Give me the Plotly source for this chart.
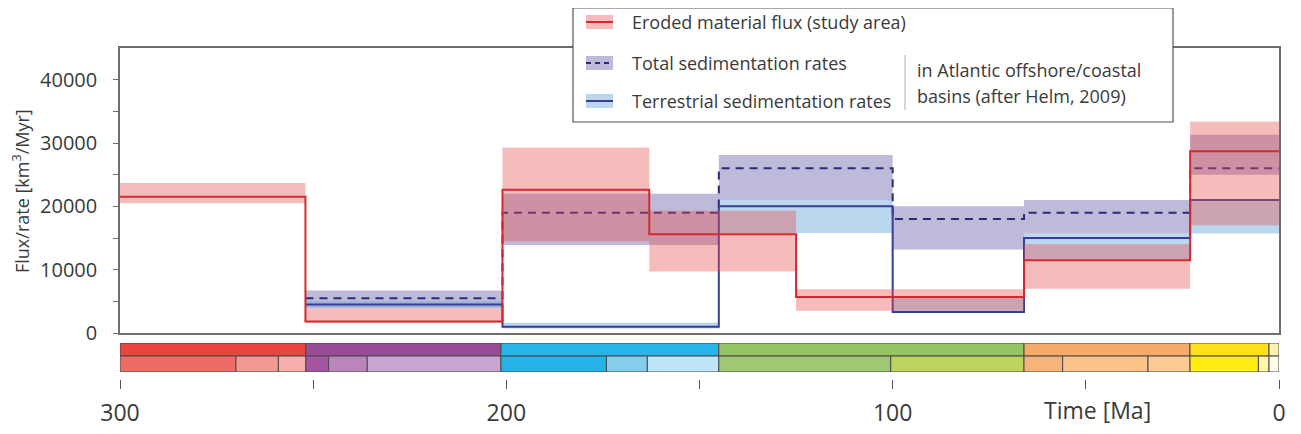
import plotly.graph_objects as go

# ---------------- data ----------------
# Eroded material flux (study area): step intervals (Ma) and values (km3/Myr)
red_bounds = [300, 252, 201, 163, 125, 66, 23, 0]
red_flux = [21500, 1800, 22600, 15600, 5700, 11500, 28700]
red_low = [20500, 1600, 14500, 9700, 3500, 7000, 17000]
red_high = [23700, 3900, 29300, 19300, 6900, 14000, 33400]

# Atlantic offshore/coastal basins (after Helm, 2009)
sed_bounds = [252, 201, 145, 100, 66, 23, 0]
total_rate = [5500, 19000, 26000, 18000, 19000, 26000]
total_low = [4000, 13900, 21000, 13200, 15700, 25000]
total_high = [6700, 22000, 28100, 20000, 21000, 31300]
terr_rate = [4500, 1000, 20000, 3300, 15000, 21000]
terr_low = [3900, 700, 15800, 3300, 11400, 15700]
terr_high = [5000, 1600, 21000, 5600, 15700, 21000]

# Geological time scale
period_bounds = [300, 251.9, 201.4, 145.0, 66.0, 23.03, 2.58, 0]
period_colors = ["#e8453e", "#984c95", "#25b5e8", "#96c462", "#f7ab6b", "#ffdf1a", "#fff3b0"]
epoch_bounds = [300, 270.0, 259.0, 251.9, 246.0, 236.0, 201.4, 174.1, 163.5, 145.0,
                100.5, 66.0, 56.0, 33.9, 23.03, 5.33, 2.58, 0]
epoch_colors = ["#ef6b66", "#f29893", "#f6afaa", "#a655a2", "#bb84bc", "#c7a7d1",
                "#25b2e6", "#84cdec", "#bfe5f8", "#a0c872", "#bdd460", "#f8b478",
                "#fbc289", "#fccb95", "#ffec10", "#fff4a8", "#fffbe8"]

x_ticks = [300, 250, 200, 150, 100, 50, 0]
x_tick_text = ["300", "", "200", "", "100", "", "0"]
y_ticks = [0, 10000, 20000, 30000, 40000]
y_tick_text = ["0", "10000", "20000", "30000", "40000"]
y_minor_ticks = [5000, 15000, 25000, 35000]

# ---------------- helpers ----------------
W, H = 1301, 434
OFF = 8  # page body margin
L, R, T, B = 120, 1279, 48, 379  # plot area in screen pixels


def px(xp):
    return (xp - L) / (R - L)


def py(yp):
    return (B - yp) / (B - T)


def band_poly(bounds, lo, hi):
    xs, ys = [], []
    for i in range(len(lo)):
        x0, x1 = bounds[i], bounds[i + 1]
        xs += [x0, x1, x1, x0, x0, None]
        ys += [lo[i], lo[i], hi[i], hi[i], lo[i], None]
    return xs, ys


RED_BAND = "rgba(232,80,80,0.38)"
PUR_BAND = "rgba(100,90,165,0.42)"
BLU_BAND = "rgba(120,175,220,0.5)"
RED_LINE = "#d42a2f"
NAVY_DASH = "#2b2a7c"
NAVY_LINE = "#3a3d98"
TXT = "#3a3a3a"
FONT = "Open Sans"

fig = go.Figure()

# sedimentation bands
xs, ys = band_poly(sed_bounds, total_low, total_high)
fig.add_trace(go.Scatter(x=xs, y=ys, fill="toself", fillcolor=PUR_BAND, mode="none",
                         hoverinfo="skip", showlegend=False))
xs, ys = band_poly(sed_bounds, terr_low, terr_high)
fig.add_trace(go.Scatter(x=xs, y=ys, fill="toself", fillcolor=BLU_BAND, mode="none",
                         hoverinfo="skip", showlegend=False))
# sedimentation lines
fig.add_trace(go.Scatter(x=sed_bounds, y=total_rate + [total_rate[-1]], mode="lines",
                         line=dict(color=NAVY_DASH, width=2, dash="8px,6px", shape="hv"),
                         showlegend=False))
fig.add_trace(go.Scatter(x=sed_bounds, y=terr_rate + [terr_rate[-1]], mode="lines",
                         line=dict(color=NAVY_LINE, width=2, shape="hv"),
                         showlegend=False))
# eroded flux band and line
xs, ys = band_poly(red_bounds, red_low, red_high)
fig.add_trace(go.Scatter(x=xs, y=ys, fill="toself", fillcolor=RED_BAND, mode="none",
                         hoverinfo="skip", showlegend=False))
fig.add_trace(go.Scatter(x=red_bounds, y=red_flux + [red_flux[-1]], mode="lines",
                         line=dict(color=RED_LINE, width=2, shape="hv"),
                         showlegend=False))

# invisible trace to activate timescale axes
fig.add_trace(go.Scatter(x=[300, 0], y=[0, 0], xaxis="x2", yaxis="y2", mode="markers",
                         marker=dict(opacity=0), hoverinfo="skip", showlegend=False))

shapes = []
# time scale boxes
for i, c in enumerate(period_colors):
    shapes.append(dict(type="rect", xref="x2", yref="y2", x0=period_bounds[i],
                       x1=period_bounds[i + 1], y0=1.1, y1=2.0, fillcolor=c,
                       line=dict(color="#4a4a4a", width=1), layer="above"))
for i, c in enumerate(epoch_colors):
    shapes.append(dict(type="rect", xref="x2", yref="y2", x0=epoch_bounds[i],
                       x1=epoch_bounds[i + 1], y0=0.0, y1=1.1, fillcolor=c,
                       line=dict(color="#4a4a4a", width=1), layer="above"))

# legend box
shapes.append(dict(type="rect", xref="paper", yref="paper", x0=px(573), x1=px(1173),
                   y0=py(122), y1=py(8), fillcolor="white",
                   line=dict(color="#555555", width=1.2), layer="above"))
rows = [22, 63, 101]
sw_fill = [RED_BAND, PUR_BAND, BLU_BAND]
sw_line = [RED_LINE, NAVY_DASH, NAVY_LINE]
sw_dash = ["solid", "5px,4px", "solid"]
for yr, f, lc, d in zip(rows, sw_fill, sw_line, sw_dash):
    shapes.append(dict(type="rect", xref="paper", yref="paper", x0=px(586), x1=px(613),
                       y0=py(yr + 7), y1=py(yr - 7), fillcolor=f, line=dict(width=0),
                       layer="above"))
    shapes.append(dict(type="line", xref="paper", yref="paper", x0=px(586), x1=px(613),
                       y0=py(yr), y1=py(yr), line=dict(color=lc, width=2, dash=d),
                       layer="above"))
shapes.append(dict(type="line", xref="paper", yref="paper", x0=px(905), x1=px(905),
                   y0=py(55), y1=py(110), line=dict(color="#b0b0b0", width=1),
                   layer="above"))

annotations = []
labels = ["Eroded material flux (study area)", "Total sedimentation rates",
          "Terrestrial sedimentation rates"]
for yr, t in zip(rows, labels):
    annotations.append(dict(text=t, xref="paper", yref="paper", x=px(630), y=py(yr),
                            xanchor="left", yanchor="middle", showarrow=False,
                            font=dict(family=FONT, size=18, color=TXT)))
annotations.append(dict(text="in Atlantic offshore/coastal", xref="paper", yref="paper",
                        x=px(915), y=py(70), xanchor="left", yanchor="middle",
                        showarrow=False, font=dict(family=FONT, size=18, color=TXT)))
annotations.append(dict(text="basins (after Helm, 2009)", xref="paper", yref="paper",
                        x=px(915), y=py(96), xanchor="left", yanchor="middle",
                        showarrow=False, font=dict(family=FONT, size=18, color=TXT)))
annotations.append(dict(text="Flux/rate [km<sup>3</sup>/Myr]", xref="paper", yref="paper",
                        x=px(21), y=py(191), xanchor="center", yanchor="middle",
                        textangle=-90, showarrow=False,
                        font=dict(family=FONT, size=18, color=TXT)))
annotations.append(dict(text="Time [Ma]", xref="paper", yref="paper",
                        x=px(1097), y=py(410), xanchor="center", yanchor="middle",
                        showarrow=False, font=dict(family=FONT, size=23, color=TXT)))

FRAME = "#6e6e6e"
fig.update_layout(
    width=W, height=H,
    margin=dict(l=L - OFF, r=W - R + OFF, t=T - OFF, b=H - B + OFF),
    paper_bgcolor="white", plot_bgcolor="white",
    showlegend=False,
    xaxis=dict(domain=[0, 1], range=[300, 0], anchor="y", showgrid=False,
               zeroline=False, showline=True, mirror=True, linecolor=FRAME,
               linewidth=1.5, ticks="", showticklabels=False),
    yaxis=dict(domain=[py(333), 1], range=[0, 45000], anchor="x", showgrid=False,
               zeroline=False, showline=True, mirror=True, linecolor=FRAME,
               linewidth=1.5, ticks="outside", ticklen=5, tickcolor=FRAME,
               tickvals=y_ticks, ticktext=y_tick_text, ticklabelstandoff=12,
               tickfont=dict(family=FONT, size=20, color=TXT),
               minor=dict(tickvals=y_minor_ticks, ticks="outside", ticklen=5,
                          tickcolor=FRAME)),
    xaxis2=dict(domain=[0, 1], range=[300, 0], anchor="free", position=0,
                showgrid=False, zeroline=False, showline=False, ticks="outside",
                ticklen=9, tickcolor="#555555", tickwidth=1.2,
                tickvals=x_ticks, ticktext=x_tick_text, ticklabelstandoff=4,
                tickfont=dict(family=FONT, size=23, color=TXT)),
    yaxis2=dict(domain=[py(372), py(343)], range=[0, 2], anchor="x2", visible=False),
    shapes=shapes,
    annotations=annotations,
)

fig.write_html("out.html")
